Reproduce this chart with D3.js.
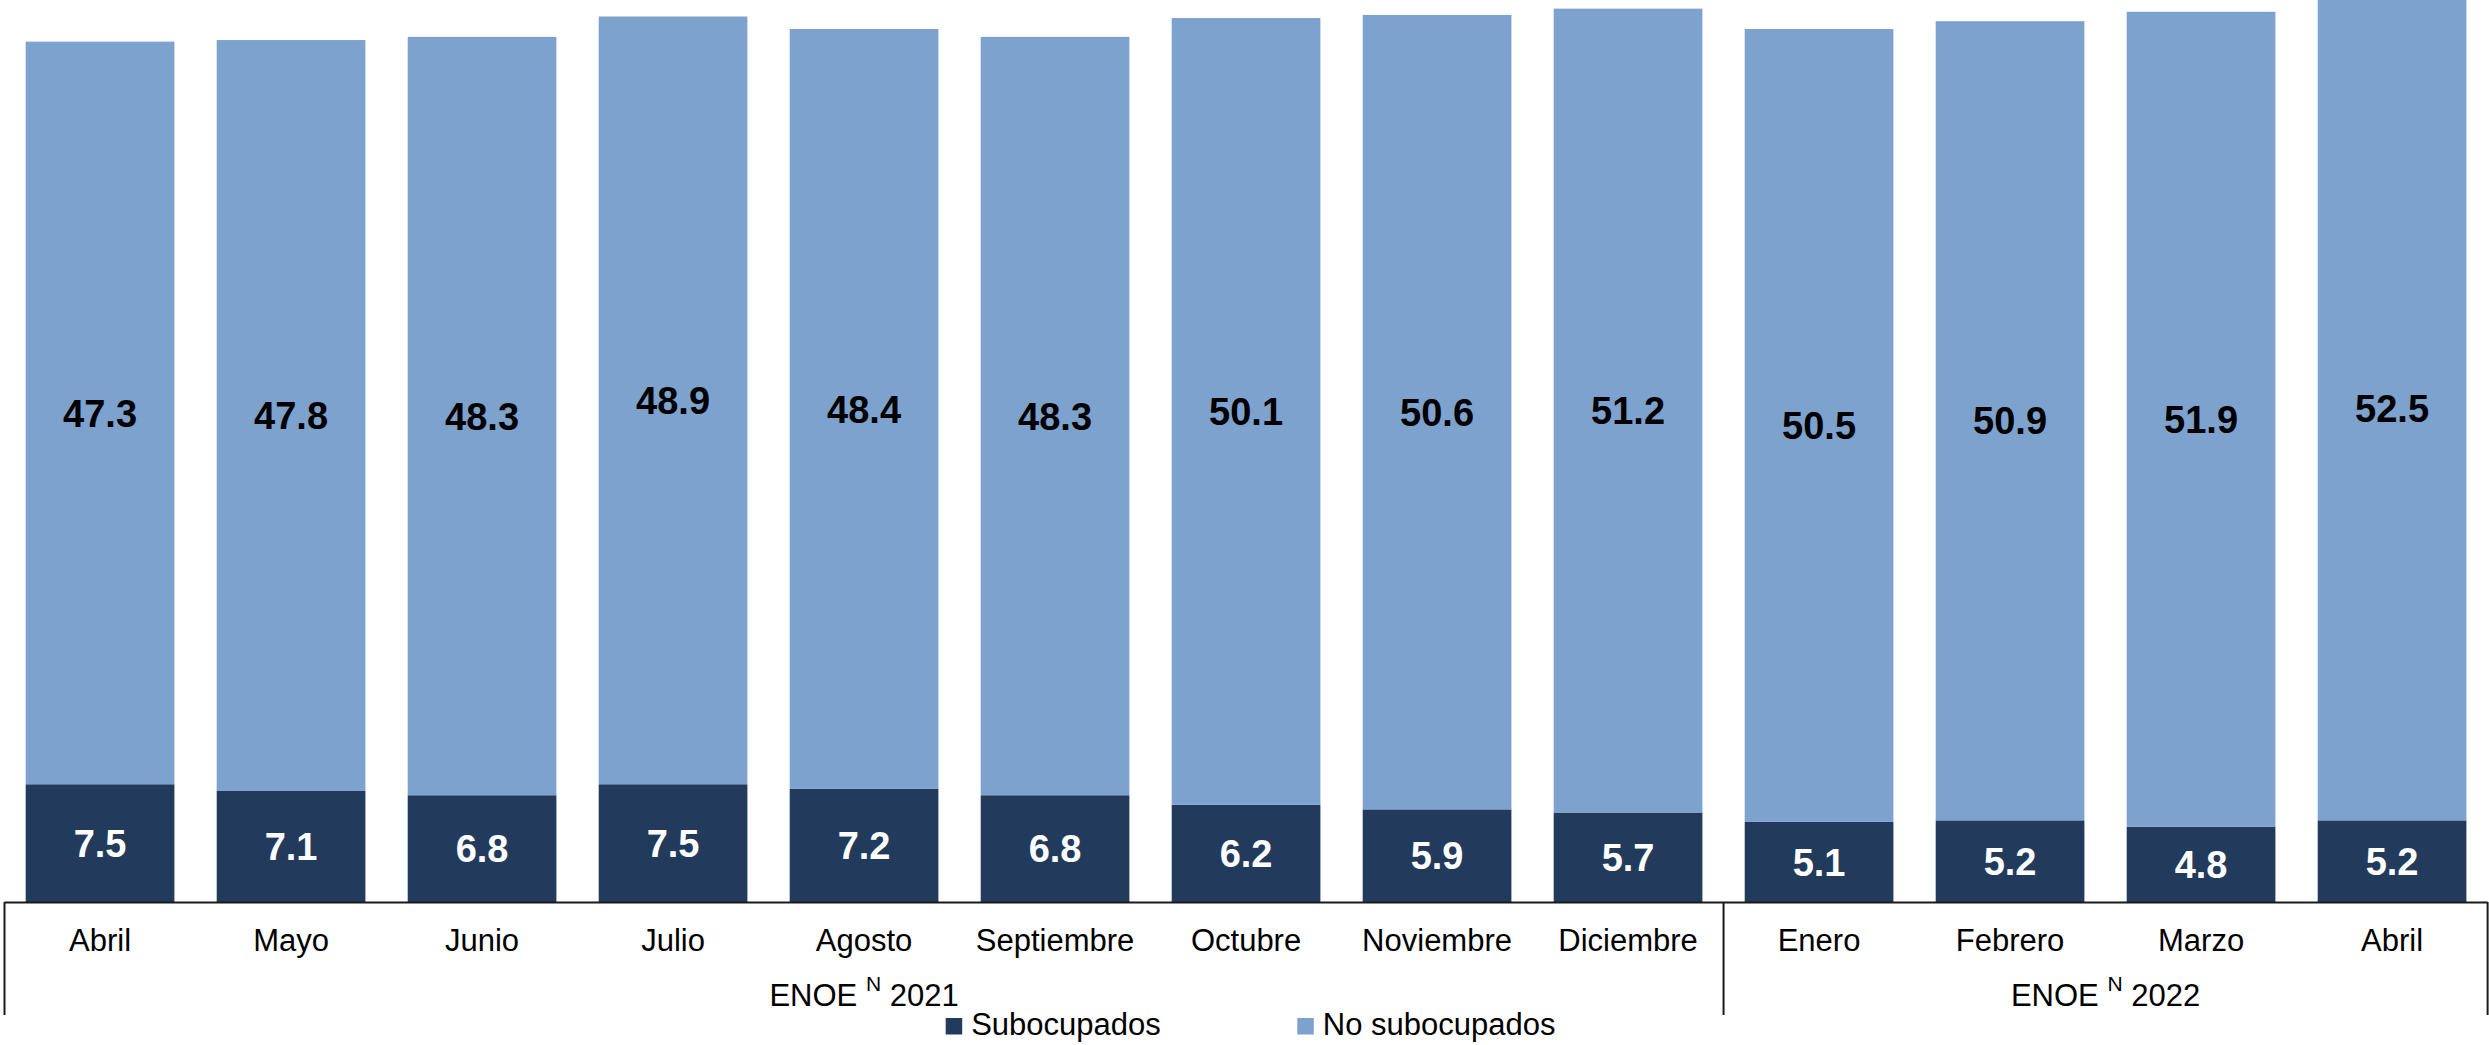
<!DOCTYPE html>
<html>
<head>
<meta charset="utf-8">
<script src="https://cdn.jsdelivr.net/npm/d3@7"></script>
<style>
  html, body { margin: 0; padding: 0; background: #fff; }
  svg { display: block; font-family: "Liberation Sans", Arial, Helvetica, sans-serif; }
</style>
</head>
<body>
<svg id="chart" width="2489" height="1045"></svg>
<script>
// ---- data ----
const months = ["Abril", "Mayo", "Junio", "Julio", "Agosto", "Septiembre", "Octubre", "Noviembre", "Diciembre", "Enero", "Febrero", "Marzo", "Abril"];
const subocupados = [7.5, 7.1, 6.8, 7.5, 7.2, 6.8, 6.2, 5.9, 5.7, 5.1, 5.2, 4.8, 5.2];
const noSubocupados = [47.3, 47.8, 48.3, 48.9, 48.4, 48.3, 50.1, 50.6, 51.2, 50.5, 50.9, 51.9, 52.5];
const groupLabels = ["2021", "2022"];
const groupStart = [0, 9];
const groupEnd = [8, 12];
const seriesNames = ["Subocupados", "No subocupados"];

// ---- styles ----
const colors = { sub: "#223A5C", nosub: "#7EA2CE" };
const W = 2489, H = 1045;
const baseY = 902;

const svg = d3.select("#chart");

const idx = months.map((d, i) => i);
const x = d3.scaleBand()
  .domain(idx)
  .range([4.5, 2487.6])
  .paddingInner(0.2215)
  .paddingOuter(0.111);

const y = d3.scaleLinear().domain([0, 57.45]).range([baseY, 0]);

const rows = idx.map(i => ({ i, sub: subocupados[i], nosub: noSubocupados[i] }));
const stack = d3.stack().keys(["sub", "nosub"])(rows);

const g = svg.append("g");

stack.forEach(layer => {
  const key = layer.key;
  g.append("g").selectAll("rect")
    .data(layer)
    .join("rect")
    .attr("x", d => x(d.data.i))
    .attr("width", x.bandwidth())
    .attr("y", d => y(d[1]))
    .attr("height", d => y(d[0]) - y(d[1]))
    .attr("fill", colors[key]);

  g.append("g").selectAll("text")
    .data(layer)
    .join("text")
    .attr("x", d => x(d.data.i) + x.bandwidth() / 2)
    .attr("y", d => (y(d[0]) + y(d[1])) / 2)
    .attr("dy", "0.36em")
    .attr("text-anchor", "middle")
    .attr("font-size", 38)
    .attr("font-weight", "bold")
    .attr("fill", key === "sub" ? "#ffffff" : "#000000")
    .text(d => d3.format(".1f")(d.data[key]));
});

// ---- x axis (month labels) ----
const axis = d3.axisBottom(x).tickSize(0).tickFormat(i => months[i]);
const axG = svg.append("g").attr("transform", `translate(0,${baseY})`).call(axis);
axG.select(".domain").remove();
axG.selectAll("text")
  .attr("y", 49)
  .attr("dy", 0)
  .attr("font-size", 31)
  .attr("font-family", "Liberation Sans, Arial, sans-serif")
  .attr("fill", "#000");

// ---- frame lines ----
const lineColor = "#1a1a1a";
const x0 = x.range()[0], x1 = x.range()[1];
const half = (x.step() - x.bandwidth()) / 2;
const dividers = [x0, x(groupEnd[0]) + x.bandwidth() + half, x1];
svg.append("line")
  .attr("x1", x0).attr("x2", x1)
  .attr("y1", baseY + 0.5).attr("y2", baseY + 0.5)
  .attr("stroke", lineColor).attr("stroke-width", 2);
svg.selectAll("line.div")
  .data(dividers)
  .join("line")
  .attr("class", "div")
  .attr("x1", d => d).attr("x2", d => d)
  .attr("y1", baseY).attr("y2", 1015)
  .attr("stroke", lineColor).attr("stroke-width", 2);

// ---- group labels ----
groupLabels.forEach((lab, k) => {
  const a = x(groupStart[k]) - half;
  const b = x(groupEnd[k]) + x.bandwidth() + half;
  const t = svg.append("text")
    .attr("x", (a + b) / 2)
    .attr("y", 1006)
    .attr("text-anchor", "middle")
    .attr("font-size", 31)
    .attr("fill", "#000");
  t.append("tspan").text("ENOE ");
  t.append("tspan").attr("font-size", 21).attr("dy", -15).text("N");
  t.append("tspan").attr("dy", 15).text(" " + lab);
});

// ---- legend ----
const legendX = [945.7, 1297.3];
const legendColors = [colors.sub, colors.nosub];
const lg = svg.append("g");
seriesNames.forEach((name, k) => {
  lg.append("rect")
    .attr("x", legendX[k]).attr("y", 1018)
    .attr("width", 16.5).attr("height", 16.5)
    .attr("fill", legendColors[k]);
  lg.append("text")
    .attr("x", legendX[k] + 25.5)
    .attr("y", 1035)
    .attr("font-size", 31)
    .attr("fill", "#000")
    .text(name);
});
</script>
</body>
</html>
